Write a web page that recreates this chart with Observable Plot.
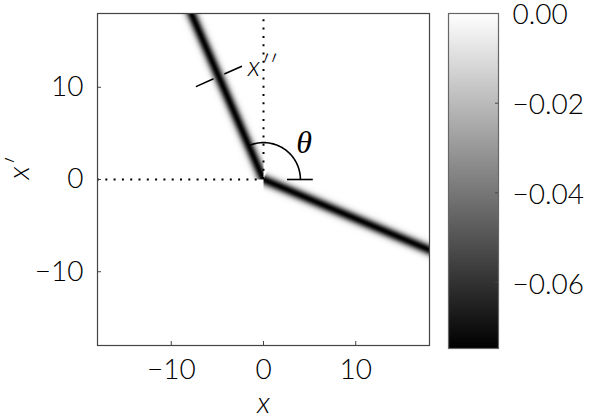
<!DOCTYPE html>
<html>
<head>
<meta charset="utf-8">
<script src="https://cdn.jsdelivr.net/npm/d3@7"></script>
<script src="https://cdn.jsdelivr.net/npm/@observablehq/plot@0.6"></script>
<style>
  html, body { margin: 0; padding: 0; background: white; }
  #wrap { display: flex; width: 600px; height: 420px; }
</style>
</head>
<body>
<div id="wrap"></div>
<script>
// ---- data ----
const xDomain = [-18, 18];
const yDomain = [-18, 18];
const xTicks = [-10, 0, 10];
const yTicks = [-10, 0, 10];
const ridgeAngles = [113.5, -23];      // degrees: upper-left ridge, lower-right ridge
const ridgeDepth = -0.0747;            // value on the ridge centre
const ridgeSigma = 0.4;                // ridge half-width (data units)
const colorDomain = [-0.0747, 0];
const colorTicks = [0, -0.02, -0.04, -0.06];
const quarterX = [-18, 0];             // dotted horizontal guide x'=0
const quarterY = [0, 18];              // dotted vertical guide x=0
const arcRadius = 4;
const arcAngles = [0, 111.5];
const refSegmentX = [2.6, 5.4];
const xppLineX = [-7.26, -2.32];
const xppLineY = [10.1, 12.3];
const thetaPos = [4.4, 4.0];
const xppPos = [-1.7, 12.2];

const FONT = "Lato, 'Open Sans', sans-serif";
const W = 300;

function field(x, y) {
  let a;
  if (x < 0 && y > 0) a = ridgeAngles[0];
  else if (x >= 0) a = ridgeAngles[1];
  else return 0;
  const t = a * Math.PI / 180;
  const along = Math.cos(t) * x + Math.sin(t) * y;
  if (along < 0) return 0;
  const d = -Math.sin(t) * x + Math.cos(t) * y;
  return ridgeDepth * Math.exp(-d * d / (2 * ridgeSigma * ridgeSigma));
}

const arcPts = d3.range(arcAngles[0], arcAngles[1] + 0.01, 1.5).map(a => ({
  x: arcRadius * Math.cos(a * Math.PI / 180),
  y: arcRadius * Math.sin(a * Math.PI / 180)
}));

const colorScale = {type: "linear", domain: colorDomain, range: ["black", "white"], clamp: true};

const main = Plot.plot({
  width: 440, height: 420,
  marginLeft: 97, marginRight: 11, marginTop: 13, marginBottom: 75,
  style: {fontFamily: FONT, background: "white"},
  x: {domain: xDomain},
  y: {domain: yDomain},
  color: colorScale,
  marks: [
    Plot.raster({x1: xDomain[0], x2: xDomain[1], y1: yDomain[0], y2: yDomain[1],
      fill: field, width: 332, height: 332}),
    Plot.ruleY([0], {x1: quarterX[0], x2: quarterX[1], stroke: "black", strokeWidth: 2, strokeDasharray: "2,6.3"}),
    Plot.ruleX([0], {y1: quarterY[0], y2: quarterY[1], stroke: "black", strokeWidth: 2, strokeDasharray: "2,6.3"}),
    Plot.line(arcPts, {x: "x", y: "y", stroke: "black", strokeWidth: 1.6}),
    Plot.ruleY([0], {x1: refSegmentX[0], x2: refSegmentX[1], stroke: "black", strokeWidth: 1.6}),
    Plot.line(xppLineX.map((v, i) => ({x: v, y: xppLineY[i]})), {x: "x", y: "y", stroke: "black", strokeWidth: 1.6, strokeDasharray: "18,13"}),
    Plot.text([thetaPos], {x: d => d[0], y: d => d[1], text: () => "θ", fontSize: 32, fontStyle: "italic", fontFamily: "'Liberation Serif', serif", textAnchor: "middle"}),
    Plot.text([xppPos], {x: d => d[0], y: d => d[1], text: () => "x′′", fontSize: 28, fontStyle: "italic", fontWeight: W, textAnchor: "start"}),
    Plot.frame({stroke: "#444", strokeWidth: 1.2}),
    Plot.ruleX(xTicks, {insetTop: 328, stroke: "#444"}),
    Plot.ruleY(yTicks, {insetRight: 328, stroke: "#444"}),
    Plot.axisX({ticks: xTicks, tickSize: 0, tickPadding: 14, fontSize: 28, fontWeight: W, tickFormat: d3.format("d"), label: null}),
    Plot.axisY({ticks: yTicks, tickSize: 0, tickPadding: 14, fontSize: 28, fontWeight: W, tickFormat: d3.format("d"), label: null}),
    Plot.text(["x"], {frameAnchor: "bottom", dy: 67, text: d => d, fontSize: 30, fontStyle: "italic", fontWeight: W}),
    Plot.text(["x′"], {frameAnchor: "left", dx: -78, text: d => d, fontSize: 30, fontStyle: "italic", fontWeight: W, rotate: -90})
  ]
});

const bar = Plot.plot({
  width: 160, height: 420,
  marginLeft: 8, marginRight: 102, marginTop: 13, marginBottom: 72,
  style: {fontFamily: FONT, background: "white"},
  x: {domain: [0, 1], axis: null},
  y: {domain: colorDomain},
  color: colorScale,
  marks: [
    Plot.raster({x1: 0, x2: 1, y1: colorDomain[0], y2: colorDomain[1], fill: (x, y) => y, width: 50, height: 335}),
    Plot.frame({stroke: "#666", strokeWidth: 1.2}),
    Plot.ruleY(colorTicks.slice(1), {insetLeft: 47, stroke: "#444"}),
    Plot.axisY({anchor: "right", ticks: colorTicks, tickSize: 0, tickPadding: 14, fontSize: 28, fontWeight: W, dy: 2, tickFormat: d3.format(".2f"), label: null})
  ]
});

document.getElementById("wrap").append(main, bar);
</script>
</body>
</html>
